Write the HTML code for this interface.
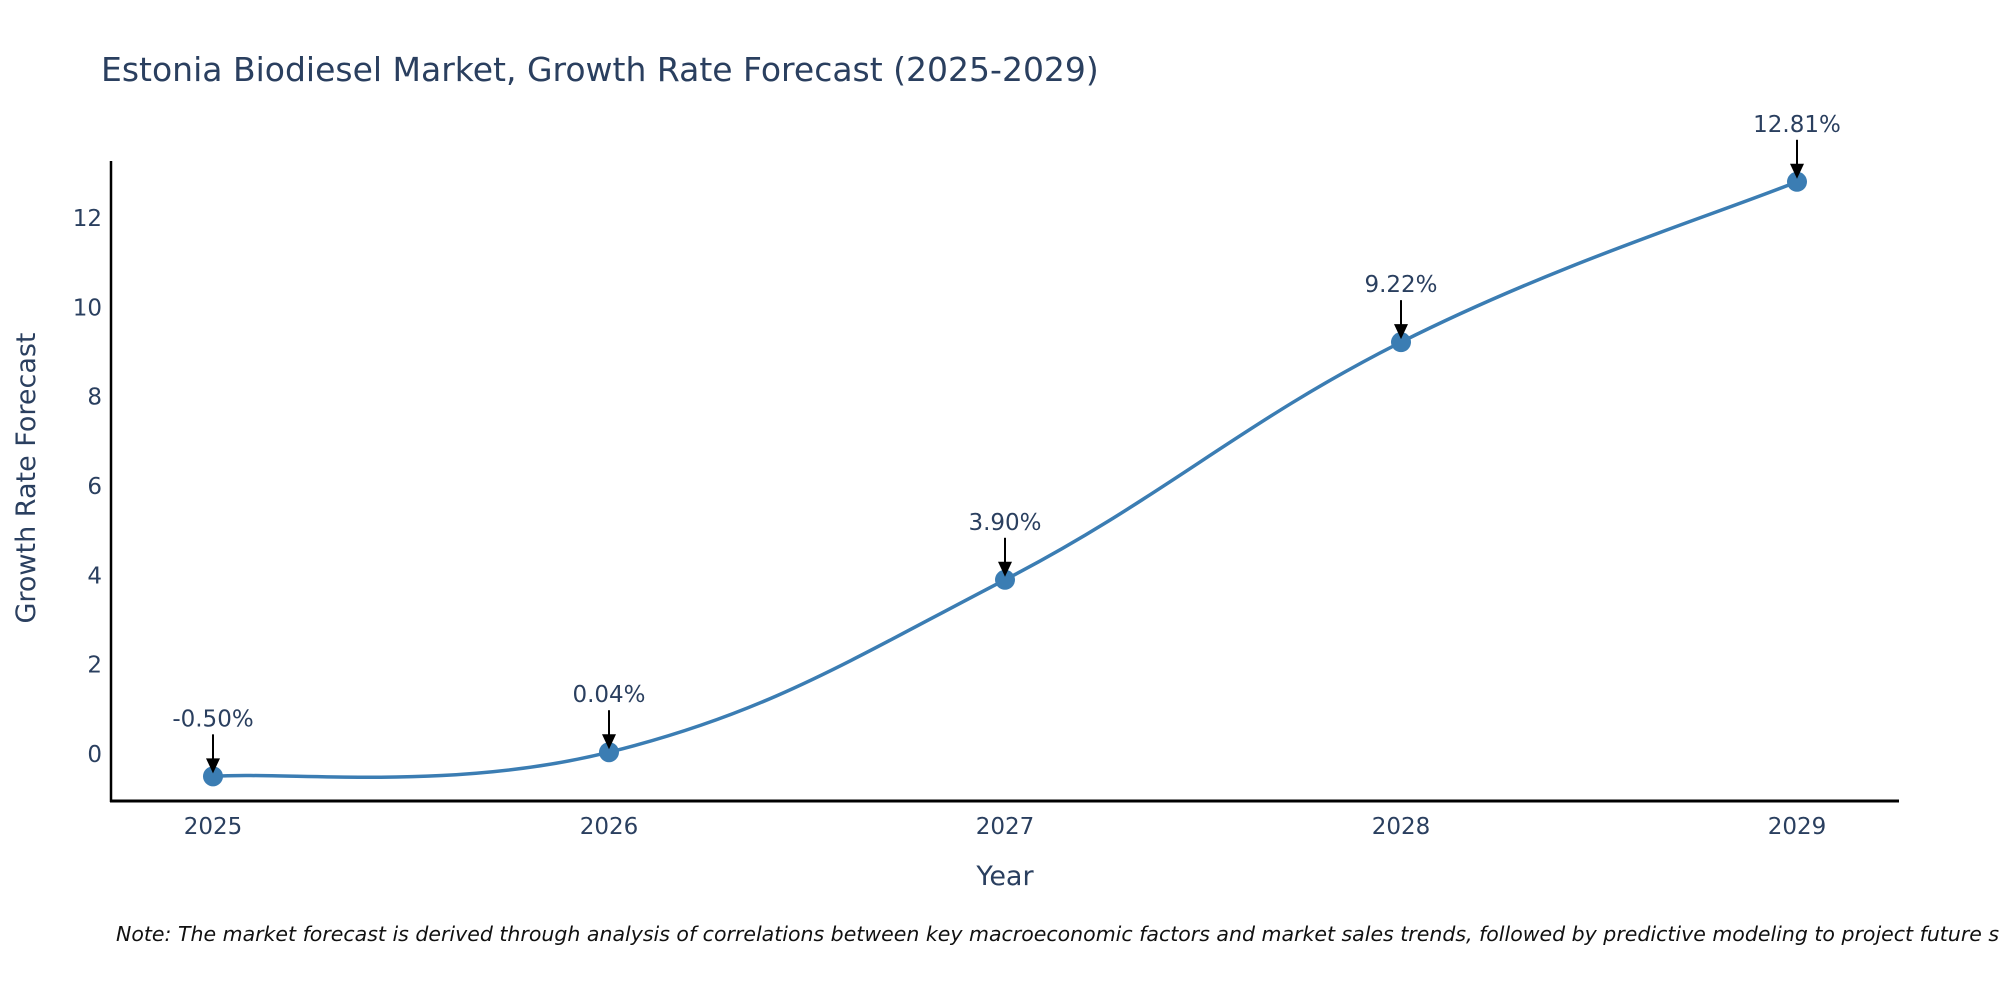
<!DOCTYPE html>
<html><head><meta charset="utf-8">
<style>
html,body{margin:0;padding:0;background:#fff;width:2000px;height:1000px;overflow:hidden;}
svg text{font-family:"DejaVu Sans","Liberation Sans",sans-serif;fill:#2a3f5f;}
</style></head>
<body>
<svg id="chart" width="2000" height="1000" xmlns="http://www.w3.org/2000/svg">
<text x="101" y="81" font-size="33">Estonia Biodiesel Market, Growth Rate Forecast (2025-2029)</text>
<line x1="111" y1="161" x2="111" y2="802" stroke="#000" stroke-width="2.5"/>
<line x1="110" y1="801" x2="1899" y2="801" stroke="#000" stroke-width="3"/>
<g id="yticks"></g><g id="xticks"></g>
<path id="series" fill="none" stroke="#3b7db3" stroke-width="3.5"/>
<g id="marks"></g>
<text transform="translate(35,478) rotate(-90)" text-anchor="middle" font-size="27">Growth Rate Forecast</text>
<text x="1005" y="885" text-anchor="middle" font-size="27">Year</text>
<text x="116" y="941" font-size="20.5" font-style="italic" style="fill:#111">Note: The market forecast is derived through analysis of correlations between key macroeconomic factors and market sales trends, followed by predictive modeling to project future sales</text>
</svg>
<script>
const years = [2025, 2026, 2027, 2028, 2029];
const values = [-0.50, 0.04, 3.90, 9.22, 12.81];
const labels = ["-0.50%", "0.04%", "3.90%", "9.22%", "12.81%"];
const yTicks = [0, 2, 4, 6, 8, 10, 12];

const NS = "http://www.w3.org/2000/svg";
function xs(v){ return 213 + (v - 2025) * 396; }
function ys(v){ return 754 - v * 44.67; }
function mk(tag, attrs, parent){
  const e = document.createElementNS(NS, tag);
  for (const k in attrs) e.setAttribute(k, attrs[k]);
  parent.appendChild(e); return e;
}
const yt = document.getElementById('yticks');
yTicks.forEach(t => {
  const e = mk('text', {x: 102, y: ys(t) + 8, 'text-anchor': 'end', 'font-size': 23}, yt);
  
  
  e.textContent = t;
});
const xt = document.getElementById('xticks');
years.forEach(y => {
  const e = mk('text', {x: xs(y), y: 834, 'text-anchor': 'middle', 'font-size': 23}, xt);
  
  
  e.textContent = y;
});
const pts = years.map((y, i) => [xs(y), ys(values[i])]);
let d = `M${pts[0][0]},${pts[0][1]}`;
const s = 0.2;
for (let i = 0; i < pts.length - 1; i++) {
  const p0 = pts[Math.max(0, i - 1)], p1 = pts[i], p2 = pts[i + 1], p3 = pts[Math.min(pts.length - 1, i + 2)];
  const c1 = [p1[0] + (p2[0] - p0[0]) * s, p1[1] + (p2[1] - p0[1]) * s];
  const c2 = [p2[0] - (p3[0] - p1[0]) * s, p2[1] - (p3[1] - p1[1]) * s];
  d += ` C${c1[0]},${c1[1]} ${c2[0]},${c2[1]} ${p2[0]},${p2[1]}`;
}
document.getElementById('series').setAttribute('d', d);
const mg = document.getElementById('marks');
pts.forEach((p, i) => {
  const c = mk('circle', {cx: p[0], cy: p[1], r: 10, fill: '#3b7db3'}, mg);
  
  
  const l = mk('line', {x1: p[0], y1: p[1] - 42, x2: p[0], y2: p[1] - 16, stroke: '#000', 'stroke-width': 2}, mg);
  
  
  const h = mk('polygon', {points: `${p[0]-7},${p[1]-18} ${p[0]+7},${p[1]-18} ${p[0]},${p[1]-3}`, fill: '#000'}, mg);
  
  
  const t = mk('text', {x: p[0], y: p[1] - 50, 'text-anchor': 'middle', 'font-size': 23}, mg);
  
  
  t.textContent = labels[i];
});
</script>
</body></html>
